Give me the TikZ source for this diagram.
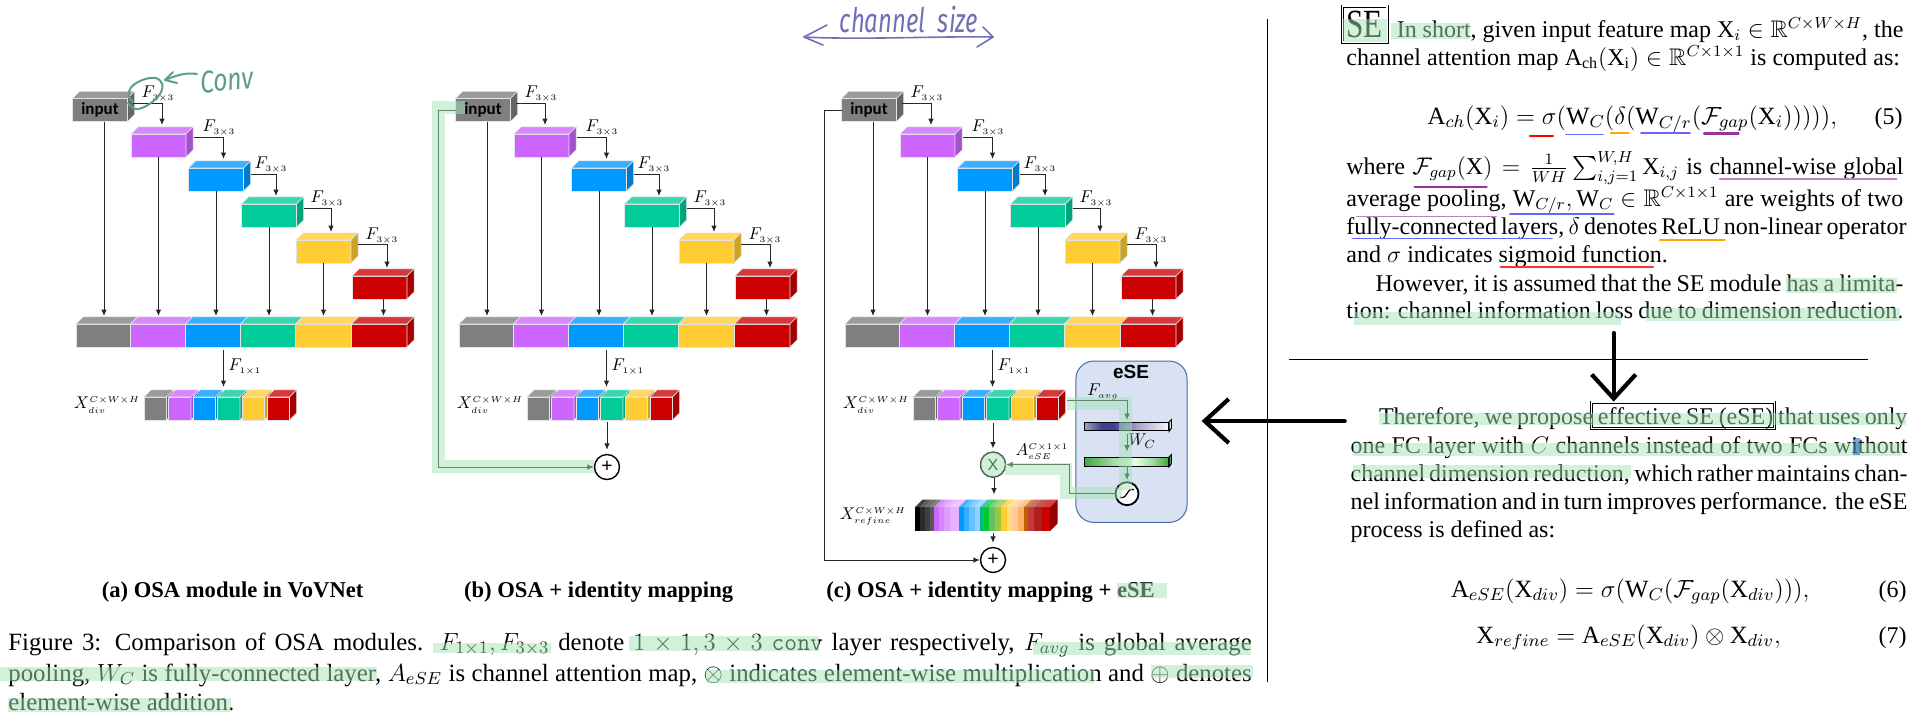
\documentclass[tikz,border=0pt]{standalone}
\usepackage{fix-cm}
\usepackage{amssymb}
\usepackage{graphicx}
\usepackage[no-math]{fontspec}
\setmainfont{Liberation Serif}
\newfontfamily\boxfont{Carlito}
\newfontfamily\labelfont{Liberation Sans}
\newfontfamily\handfont{Fira Sans}
\DeclareMathAlphabet{\mathtm}{TU}{\rmdefault}{m}{n}
\usetikzlibrary{arrows.meta}

\definecolor{osagray}{HTML}{7F7F7F}
\definecolor{osapurple}{HTML}{CC66FF}
\definecolor{osablue}{HTML}{0099FF}
\definecolor{osagreen}{HTML}{00CC99}
\definecolor{osayellow}{HTML}{FFCC33}
\definecolor{osared}{HTML}{CC0000}
\definecolor{edgegray}{HTML}{E4E4E8}
\definecolor{esefill}{HTML}{D9E2F3}
\definecolor{eseline}{HTML}{4A6AA5}
\definecolor{mint}{HTML}{A5E3B5}
\definecolor{convpen}{HTML}{5F9C90}
\definecolor{sizepen}{HTML}{6F70B5}

\pgfdeclarehorizontalshading{fcblue}{100bp}{color(0bp)=(black!0!white);
	color(25bp)=(blue!20!gray!60!white); color(35bp)=(blue!45!black!75!white);
	color(42bp)=(blue!45!black!75!white); color(58bp)=(blue!30!gray!50!white);
	color(75bp)=(blue!3!white); color(100bp)=(white)}
\pgfdeclarehorizontalshading{fcgreen}{100bp}{color(0bp)=(green!40!black);
	color(25bp)=(green!45!gray!90!black); color(42bp)=(green!40!gray!50!white);
	color(55bp)=(green!10!white); color(65bp)=(green!45!gray!50!white);
	color(75bp)=(green!45!gray!90!black); color(100bp)=(green!40!black)}

\newcommand{\bodysize}{\fontsize{12}{14}\selectfont}
\newcommand{\capsize}{\fontsize{12.4}{15}\selectfont}

\tikzset{
	blockface/.style={rectangle, draw=edgegray, line width=.4pt, inner sep=0pt, outer sep=0pt, minimum height=11.5pt, font=\boxfont\bfseries\fontsize{8.5}{9}\selectfont},
	blockedge/.style={draw=edgegray, line width=.3pt},
	flow/.style={-{Latex[length=3.2pt,width=2.8pt]}, line width=.5pt, black!85},
	layerlabel/.style={inner sep=0pt, scale=.85, font=\fontsize{10}{11}\selectfont},
	opnode/.style={circle, draw, line width=.7pt, fill=white, inner sep=0pt, minimum size=12.5pt},
	textline/.style={anchor=base west, inner sep=0pt, font=\bodysize},
	eqline/.style={anchor=base west, inner sep=0pt, font=\fontsize{12.4}{14}\selectfont},
	capline/.style={anchor=base west, inner sep=0pt, font=\capsize},
	subcap/.style={anchor=base, inner sep=0pt, font=\fontsize{11.3}{13}\selectfont\bfseries},
	dblbox/.style={rectangle, draw, double, double distance=.7pt, line width=.4pt, inner sep=0pt},
	bigarrow/.style={-{Straight Barb[length=12pt,width=22pt]}, line width=2.1pt, line cap=round},
	fcbar/.style={rectangle, draw=black, line width=.5pt, inner sep=0pt, minimum width=42pt, anchor=north west},
	hl/.style={fill=mint, opacity=.5},
	hlpath/.style={draw=mint, opacity=.5, line join=miter},
	convstroke/.style={draw=convpen, line width=1pt, line cap=round, line join=round},
	sizestroke/.style={draw=sizepen, line width=.8pt, line cap=round, line join=round}
}

% name, x, y, width, colour, text
\newcommand{\osablock}[6]{
	\node[blockface, fill=#5, minimum width=#4*.5pt, anchor=north west] (#1) at (#2,#3) {#6};
	\fill[#5!78!white, blockedge] (#1.north west) -- ++(3.6pt,3.6pt) -- ++(#4*.5pt,0) -- (#1.north east) -- cycle;
	\fill[#5!80!black, blockedge] (#1.north east) -- ++(3.6pt,3.6pt) -- ++(0,-11.5pt) -- (#1.south east) -- cycle;
}

% one OSA stack, moved to the right by #2
\newcommand{\osamodule}[2]{
	\begin{scope}[xshift=#2*.5pt]
		\foreach \i/\x/\y/\c in {1/131/134/osapurple, 2/188.5/168/osablue, 3/241.5/204/osagreen, 4/296/240/osayellow, 5/352/276/osared}
			\osablock{#1\i}{\x}{\y}{55}{\c}{};
		\osablock{#10}{72.5}{98.5}{55}{osagray}{input};
		\foreach \i/\x/\w/\c in {0/76/54.5/osagray, 1/130.5/55/osapurple, 2/185.5/55/osablue, 3/240.5/55/osagreen, 4/295.5/56/osayellow, 5/351.5/55.5/osared}
			\osablock{#1b\i}{\x}{324}{\w}{\c}{};
		\foreach \i/\x/\c in {0/144/osagray, 1/168.5/osapurple, 2/193/osablue, 3/217.5/osagreen, 4/242/osayellow, 5/267/osared}
			\osablock{#1d\i}{\x}{397}{22.5}{\c}{};

		\foreach \i/\j/\xa/\ya/\xb/\yb/\xl/\yl in {0/1/133/103/162/125/158/94, 1/2/194/137.5/223.5/159/219/128, 2/3/251/174.5/276/196/271/165, 3/4/304/208/331/232/327/199, 4/5/358/244.5/387/268/382/236}{
			\coordinate (#1r\i) at (\xa,\ya);
			\coordinate (#1t\j) at (\xb,\yb);
			\node[layerlabel] (#1f\i) at (\xl,\yl) {$F_{\scriptscriptstyle 3\times 3}$};
			\draw[flow] (#1r\i) -| (#1t\j);
		}

		\coordinate (#1top) at (0,316);
		\foreach \i/\o in {0/2pt, 1/0pt, 2/0pt, 3/0pt, 4/0pt, 5/2pt}
			\draw[flow] ([xshift=\o]#1\i.south) -- ([xshift=\o]#1\i.south |- #1top);

		\coordinate (#1j) at (223.5,350);
		\coordinate (#1k) at (223.5,387);
		\draw[flow] (#1j) -- (#1k);
		\node[layerlabel] (#1g) at (245,367) {$F_{\scriptscriptstyle 1\times 1}$};
		\node[layerlabel] (#1x) at (107,405) {$X_{\scriptscriptstyle div}^{\scriptscriptstyle C\times W\times H}$};
	\end{scope}
}

\begin{document}
\begin{tikzpicture}[x=.5pt, y=-.5pt]
	\useasboundingbox (0,0) rectangle (1924,720);

	\osamodule{a}{0}
	\osamodule{b}{383}
	\osamodule{c}{769}

	% module b
	\node[opnode, font=\bfseries] (bplus) at (607,467) {+};
	\coordinate (bdown) at (607,422);
	\coordinate (bbend) at (438,467);
	\draw[flow, shorten >=2pt] (bdown) -- (bplus);
	\draw[flow] (b0.west) -- (b0.west -| bbend) -- (bbend) -- (bplus);

	% module c
	\node[rounded corners=9pt, draw=eseline, fill=esefill, line width=.5pt, minimum width=55.6pt, minimum height=80.7pt] (esepanel) at (1131.5,441.7) {};
	\node[inner sep=0pt, font=\labelfont\bfseries\fontsize{9.5}{10}\selectfont] (esetitle) at (1131,372) {eSE};
	\node[opnode, font=\labelfont\fontsize{8}{9}\selectfont] (cmul) at (993,464.6) {X};
	\node[opnode, font=\bfseries] (cplus) at (993,560) {+};
	\node[opnode, minimum size=11.5pt, line width=.9pt] (csig) at (1127,493.7) {};
	\draw[line width=.6pt] (1120,497.5) .. controls (1129,499) and (1125,488) .. (1134,489.5);
	\node[fcbar, shading=fcblue, minimum height=4.2pt] (fc1) at (1084,422) {};
	\node[fcbar, shading=fcgreen, minimum height=4.5pt] (fc2) at (1084,457) {};
	\draw[line width=.5pt, fill=white] (fc1.north east) -- ++(1.2pt,1.2pt) -- ++(0,-4.2pt) -- (fc1.south east) -- cycle;
	\draw[line width=.5pt, fill=green!40!gray] (fc2.north east) -- ++(1.2pt,1.2pt) -- ++(0,-4.5pt) -- (fc2.south east) -- cycle;
	\node[layerlabel] (cavg) at (1103,392) {$F_{\scriptscriptstyle avg}$};
	\node[layerlabel] (cwc) at (1142,441) {$W_C$};
	\node[layerlabel] (catt) at (1042,451.6) {$A_{\scriptscriptstyle eSE}^{\scriptscriptstyle C\times 1\times 1}$};
	\node[layerlabel] (cref) at (873,516.6) {$X_{\scriptscriptstyle refine}^{\scriptscriptstyle C\times W\times H}$};

	\foreach \xa/\xb/\c in {915/920/black, 920/925/black!83, 925/930/black!75, 930/934.3/black!65,
		934.3/939.3/osapurple, 939.3/944.3/osapurple!80!white, 944.3/950/osapurple!65!white, 950/959/osapurple!50!white,
		959/964/osablue, 964/969/osablue!80!white, 969/975/osablue!60!white, 975/980/osablue!45!white,
		980/984.3/osagreen!90!black, 984.3/989.3/green!70!osagreen!85!black, 989.3/995/green!40!gray!85!white, 995/1000.7/lime!55!gray!95!green,
		1000.7/1006.7/osayellow, 1006.7/1011.7/osayellow!65!white, 1011.7/1017.7/orange!40!white, 1017.7/1024/orange!60!white,
		1024/1028.3/orange!75!black, 1028.3/1034/red!55!gray, 1034/1041.7/red!70!gray!80!black, 1041.7/1050/osared}{
		\colorlet{stripcolor}{\c}
		\fill[stripcolor] (\xa,507) rectangle (\xb,531);
		\fill[stripcolor!75!white] (\xa,507) -- (\xa+7.5,499.5) -- (\xb+7.5,499.5) -- (\xb,507) -- cycle;
	}
	\fill[osared!75!black] (1050,507) -- (1057.5,499.5) -- (1057.5,523.5) -- (1050,531) -- cycle;

	\coordinate (cdown) at (993,423);
	\coordinate (cin) at (994,494.4);
	\coordinate (cout) at (993,533);
	\coordinate (cbend) at (824.5,560);
	\coordinate (cfrom) at (1067,400.7);
	\coordinate (cfc) at (1127,420);
	\coordinate (cw1) at (1127,434);
	\coordinate (cw2) at (1127,451.6);
	\coordinate (cw3) at (1127,466);
	\coordinate (cw4) at (1127,480);
	\coordinate (cback) at (1069,464.6);
	\draw[flow, shorten >=1.5pt] (cdown) -- (cmul);
	\draw[flow] (cmul.south -| cin) -- (cin);
	\draw[flow, shorten >=2pt] (cout) -- (cplus);
	\draw[flow] (c0.west) -- (c0.west -| cbend) -- (cbend) -- (cplus);
	\draw[flow] (cfrom) -| (cfc);
	\draw[flow] (cw1) -- (cw2);
	\draw[flow] (cw3) -- (cw4);
	\draw[flow] (csig) -| (cback) -- (cmul);

	% caption lines under the modules
	\node[subcap] (capa) at (232.6,597) {(a) OSA module in VoVNet};
	\node[subcap] (capb) at (598.6,597) {(b) OSA + identity mapping};
	\node[subcap] (capc) at (990.6,597) {(c) OSA + identity mapping + eSE};
	\node[capline] (fig1) at (8,650) {\makebox[621.7pt][s]{Figure 3: Comparison of OSA modules. $F_{1\times 1},F_{3\times 3}$ denote $1\times 1,3\times 3$ \texttt{conv} layer respectively, $F_{avg}$ is global average}};
	\node[capline] (fig2) at (8,681) {\makebox[621.7pt][s]{pooling, $W_C$ is fully-connected layer, $A_{eSE}$ is channel attention map, $\otimes$ indicates element-wise multiplication and $\oplus$ denotes}};
	\node[capline] (fig3) at (8,710) {element-wise addition.};

	% text column
	\draw[line width=.5pt] (1267.6,19) -- (1267.6,682);
	\draw[line width=.5pt] (1288.8,359) -- (1867.8,359);
	\node[dblbox, minimum width=22.2pt, minimum height=18pt, font=\fontsize{20}{22}\selectfont] (sebox) at (1364.8,24) {\scalebox{.78}[1]{SE}};
	\node[textline] (se1) at (1396.4,37) {\makebox[253.3pt][s]{In short, given input feature map $\mathtm{X}_i\in\mathbb{R}^{C\times W\times H}$, the}};
	\node[textline] (se2) at (1346,65) {\makebox[276.8pt][s]{channel attention map $\mathtm{A_{ch}}(\mathtm{X_i})\in\mathbb{R}^{C\times 1\times 1}$ is computed as:}};
	\node[eqline] (eq5) at (1427.3,124) {$\mathtm{A}_{ch}(\mathtm{X}_i)=\sigma(\mathtm{W}_C(\delta(\mathtm{W}_{C/r}(\mathcal{F}_{gap}(\mathtm{X}_i))))),$};
	\node[textline, anchor=base east] (no5) at (1903,124) {(5)};
	\node[textline] (se3) at (1346,174) {\makebox[278.5pt][s]{where $\mathcal{F}_{gap}(\mathtm{X})=\frac{1}{WH}\sum_{i,j=1}^{W,H}\mathtm{X}_{i,j}$ is channel-wise global}};
	\node[textline] (se4) at (1346,206) {\makebox[278.5pt][s]{average pooling, $\mathtm{W}_{C/r},\mathtm{W}_C\in\mathbb{R}^{C\times 1\times 1}$ are weights of two}};
	\node[textline] (se5) at (1346,234) {\makebox[278.5pt][s]{fully-connected layers, $\delta$ denotes ReLU non-linear operator}};
	\node[textline] (se6) at (1346,262) {and $\sigma$ indicates sigmoid function.};
	\node[textline] (se7) at (1375.2,291) {\makebox[263.9pt][s]{However, it is assumed that the SE module has a limita-}};
	\node[textline] (se8) at (1346,318) {\makebox[278.5pt][s]{tion: channel information loss due to dimension reduction.}};

	\node[dblbox, minimum width=91.5pt, minimum height=13.3pt] (esebox) at (1683,415.3) {};
	\node[textline] (ese1) at (1378.6,424) {\makebox[264.2pt][s]{Therefore, we propose effective SE (eSE) that uses only}};
	\node[textline] (ese2) at (1350.2,453) {\makebox[278.4pt][s]{one FC layer with $C$ channels instead of two FCs without}};
	\node[textline] (ese3) at (1350.2,481) {\makebox[278.4pt][s]{channel dimension reduction, which rather maintains chan-}};
	\node[textline] (ese4) at (1350.2,509) {\makebox[278.4pt][s]{nel information and in turn improves performance. the eSE}};
	\node[textline] (ese5) at (1350.2,537) {process is defined as:};
	\node[eqline] (eq6) at (1450.6,597) {$\mathtm{A}_{eSE}(\mathtm{X}_{div})=\sigma(\mathtm{W}_C(\mathcal{F}_{gap}(\mathtm{X}_{div}))),$};
	\node[textline, anchor=base east] (no6) at (1907,597) {(6)};
	\node[eqline] (eq7) at (1476,643) {$\mathtm{X}_{refine}=\mathtm{A}_{eSE}(\mathtm{X}_{div})\otimes\mathtm{X}_{div},$};
	\node[textline, anchor=base east] (no7) at (1907,643) {(7)};

	% arrows added by hand
	\coordinate (downfrom) at (1613.7,333);
	\coordinate (leftfrom) at (1344.7,421);
	\draw[bigarrow] (downfrom) -- (downfrom |- esebox.north);
	\draw[bigarrow, shorten >=7pt] (leftfrom) -- (leftfrom -| esepanel.east);

	% coloured underlines
	\foreach \xa/\xb/\y/\c/\w in {1530/1553/136/red/1.1pt, 1566/1603/134.5/blue!60!white/.9pt, 1611/1628.5/133/orange!70!yellow/1.1pt, 1641/1690/133/blue!60!white/.9pt, 1704/1738.6/133.5/violet!80!white/1.1pt,
		1414.6/1486.6/186.7/violet!80!white/1.2pt, 1719.6/1896.6/179/violet!50!white/.7pt, 1356.6/1496.3/216.7/violet!50!white/.7pt, 1510/1613.7/214/blue!60!white/.8pt,
		1352.3/1552/238.5/blue!60!white/.8pt, 1660/1724.6/240/orange!70!yellow/1.2pt, 1500.6/1653/267/red!80!white/1pt}
		\draw[\c, line width=\w, line cap=round] (\xa,\y) -- (\xb,\y);

	% highlighter
	\foreach \xa/\ya/\xb/\yb in {1342.6/19/1387/42, 1391.3/23/1469.7/39, 1786/278/1897.4/293, 1354/312/1621.3/325, 1646.3/308/1899.6/321, 1378.6/413/1906/425, 1353.2/443/1901.7/456, 1353.2/465/1630.6/478,
		432.7/643/551/653, 628.6/636/818.8/651, 1032.7/642/1251.4/655, 0/667/377/681, 706/670/1094/683, 1151/665/1253/678, 8/698/231/712, 1116.7/583/1167/598}
		\fill[hl] (\xa,\ya) rectangle (\xb,\yb);
	\fill[blue!40!teal, opacity=.5] (1853,438) rectangle (1859.8,455);
	\draw[hlpath, line width=6.5pt] (465,107) -- (438.5,107) -- (438.5,466.5) -- (594,466.5);
	\draw[hlpath, line width=6.5pt] (1067,403) -- (1125,403) -- (1125,490);
	\draw[hlpath, line width=6pt] (1122,492.5) -- (1066,492.5) -- (1066,469) -- (1005,469);
	\fill[hl] (cmul) circle [radius=13];

	% handwritten notes
	\draw[convstroke] (133,102) .. controls (118,88) and (145,76) .. (156,78) .. controls (170,84) and (160,100) .. (142,108) .. controls (136,111) and (131,108) .. (128,103);
	\draw[convstroke] (197,74) .. controls (185,72) and (175,76) .. (165,80);
	\draw[convstroke] (173,72) -- (165,80) -- (177,83);
	\node[inner sep=0pt, text=convpen, rotate=5, font=\handfont\itshape\fontsize{13}{14}\selectfont] (convnote) at (227,80) {\scalebox{.95}[1.2]{Conv}};
	\node[inner sep=0pt, text=sizepen, font=\handfont\itshape\fontsize{13}{14}\selectfont] (sizenote) at (909,20) {\scalebox{.92}[1.3]{channel\ \ size}};
	\draw[sizestroke] (804,37) .. controls (860,40) and (940,36) .. (993,37);
	\draw[sizestroke] (827,25) -- (804,37) -- (823,45);
	\draw[sizestroke] (983,27) -- (993,37) -- (977,47);
\end{tikzpicture}
\end{document}
